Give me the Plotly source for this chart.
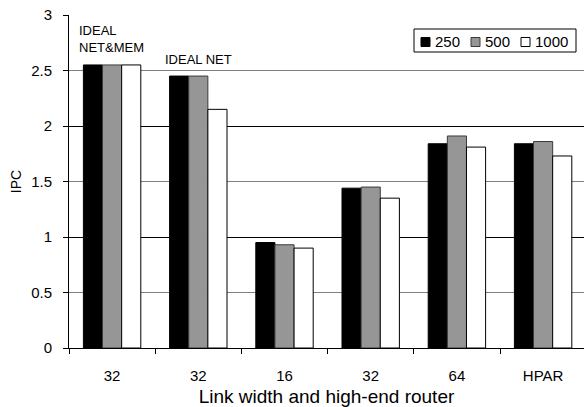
import plotly.graph_objects as go

# Link width configurations (x axis) and IPC per series
GROUP_LABELS = ["32", "32", "16", "32", "64", "HPAR"]
SERIES_NAMES = ["250", "500", "1000"]
IPC_250 = [2.55, 2.45, 0.95, 1.44, 1.84, 1.84]
IPC_500 = [2.55, 2.45, 0.93, 1.45, 1.91, 1.86]
IPC_1000 = [2.55, 2.15, 0.90, 1.35, 1.81, 1.73]
Y_TICKS = [0, 0.5, 1, 1.5, 2, 2.5, 3]
BLACK_GRID = [1, 2]

FILLS = ["#000000", "#969696", "#ffffff"]
EDGES = ["#000000", "#3a3a3a", "#000000"]
FONT = "Liberation Sans, Arial, sans-serif"

W, H = 584, 407
ML, MR, MT, MB = 69, 0, 15, 59
PW, PH = W - ML - MR, H - MT - MB

xs = list(range(len(GROUP_LABELS)))
series = [IPC_250, IPC_500, IPC_1000]

fig = go.Figure()
# empty trace so the overlaid grid axis gets drawn
fig.add_trace(go.Scatter(x=[], y=[], yaxis="y2", showlegend=False, hoverinfo="skip"))
for name, vals, fill, edge in zip(SERIES_NAMES, series, FILLS, EDGES):
    fig.add_trace(go.Bar(
        x=xs, y=vals, name=name,
        marker=dict(color=fill, line=dict(color=edge, width=1)),
        showlegend=False,
    ))

# group width in px is ~86; the visible area ends a little before the last boundary
group_px = 86.2
x_hi = -0.5 + PW / group_px

fig.update_layout(
    width=W, height=H,
    margin=dict(l=ML, r=MR, t=MT, b=MB, pad=0),
    paper_bgcolor="white", plot_bgcolor="white",
    barmode="group", bargap=0.334, bargroupgap=0,
    font=dict(family=FONT, color="black", size=15),
    xaxis=dict(
        range=[-0.5, x_hi],
        tickmode="array", tickvals=xs, ticktext=GROUP_LABELS,
        ticks="", showgrid=False, zeroline=False,
        showline=True, linecolor="black", linewidth=1,
        tickfont=dict(size=15), ticklabelstandoff=14,
        minor=dict(tickmode="array",
                   tickvals=[i - 0.5 for i in range(len(GROUP_LABELS) + 1)],
                   ticks="outside", ticklen=5, tickcolor="black", showgrid=False),
        title=dict(text="Link width and high-end router", font=dict(size=19), standoff=6),
    ),
    yaxis=dict(
        range=[0, 3], tickmode="array", tickvals=Y_TICKS,
        ticktext=[f"{v:g}" for v in Y_TICKS],
        ticks="outside", ticklen=5, tickcolor="black",
        showline=True, linecolor="black", linewidth=1,
        showgrid=True, gridcolor="#808080", gridwidth=1, zeroline=False,
        tickfont=dict(size=15), ticklabelstandoff=8,
        title=dict(text="IPC", font=dict(size=14), standoff=6),
    ),
    # overlaid axis that only carries the darker integer gridlines
    yaxis2=dict(
        overlaying="y", anchor="x", side="left", range=[0, 3],
        tickmode="array", tickvals=BLACK_GRID, showticklabels=False, ticks="",
        showgrid=True, gridcolor="black", gridwidth=1, zeroline=False, showline=False,
    ),
)

# labels above the ideal configurations
fig.add_annotation(x=xs[0] - 0.41, y=max(IPC_250[0], IPC_500[0], IPC_1000[0]),
                   xref="x", yref="y", xanchor="left", yanchor="bottom", yshift=8,
                   text="IDEAL<br>NET&MEM", showarrow=False, align="left",
                   font=dict(size=13))
fig.add_annotation(x=xs[1] - 0.41, y=max(IPC_250[1], IPC_500[1], IPC_1000[1]),
                   xref="x", yref="y", xanchor="left", yanchor="bottom", yshift=7,
                   text="IDEAL NET", showarrow=False, align="left",
                   font=dict(size=13))

# compact boxed legend in the upper right
def px_to_paper(px, py):
    return (px - ML) / PW, (H - MB - py) / PH

bx0, by0 = px_to_paper(414, 52)
bx1, by1 = px_to_paper(576, 29)
fig.add_shape(type="rect", xref="paper", yref="paper", x0=bx0, y0=by0, x1=bx1, y1=by1,
              line=dict(color="black", width=1), fillcolor="white", layer="above")
key0, key_step, key_size, key_cy = 421, 50, 9, 42
for i, (name, fill, edge) in enumerate(zip(SERIES_NAMES, FILLS, EDGES)):
    kx = key0 + i * key_step
    sx0, sy0 = px_to_paper(kx, key_cy + key_size / 2)
    sx1, sy1 = px_to_paper(kx + key_size, key_cy - key_size / 2)
    fig.add_shape(type="rect", xref="paper", yref="paper", x0=sx0, y0=sy0, x1=sx1, y1=sy1,
                  line=dict(color=edge, width=1), fillcolor=fill, layer="above")
    tx, ty = px_to_paper(kx + key_size + 4, key_cy)
    fig.add_annotation(x=tx, y=ty, xref="paper", yref="paper", xanchor="left",
                       yanchor="middle", text=name, showarrow=False,
                       font=dict(size=15), borderpad=0)

fig.write_html("out.html")
